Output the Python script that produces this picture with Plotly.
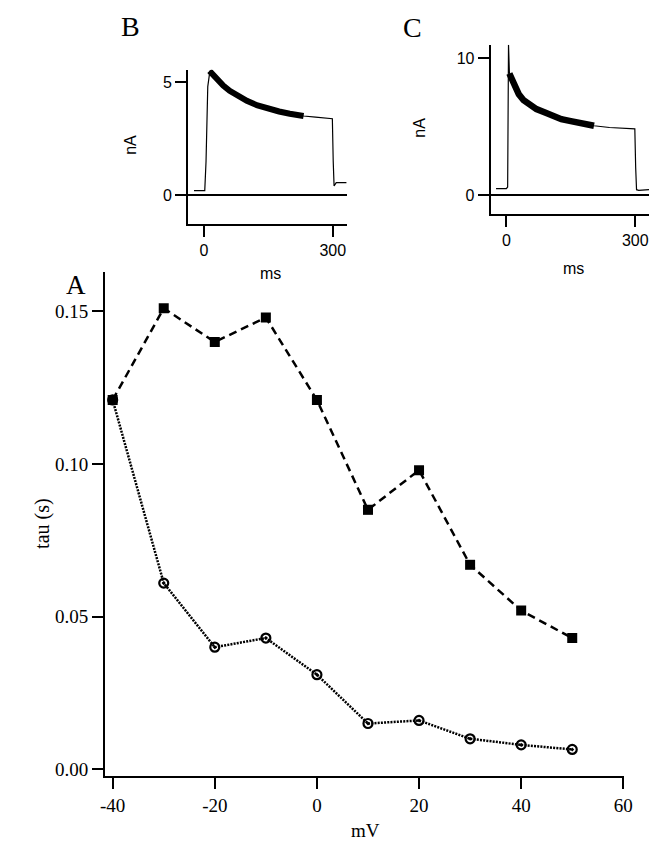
import plotly.graph_objects as go

# ---------------- data ----------------
mv = [-40, -30, -20, -10, 0, 10, 20, 30, 40, 50]
tau_squares = [0.121, 0.151, 0.140, 0.148, 0.121, 0.085, 0.098, 0.067, 0.052, 0.043]
tau_circles = [0.121, 0.061, 0.040, 0.043, 0.031, 0.015, 0.016, 0.010, 0.008, 0.0065]

main_xticks = [-40, -20, 0, 20, 40, 60]
main_xticklabels = ["-40", "-20", "0", "20", "40", "60"]
main_yticks = [0.0, 0.05, 0.10, 0.15]
main_yticklabels = ["0.00", "0.05", "0.10", "0.15"]

# inset B: current trace (ms, nA) and the fitted exponential part (thick)
b_trace_ms = [-23, 2, 5, 9, 14, 20, 30, 45, 60, 80, 100, 125, 150, 175, 200, 232, 260, 299, 301, 303, 308, 332]
b_trace_na = [0.2, 0.2, 1.5, 4.8, 5.5, 5.35, 5.1, 4.85, 4.62, 4.38, 4.17, 3.97, 3.82, 3.7, 3.6, 3.5, 3.45, 3.38, 1.5, 0.4, 0.55, 0.55]
b_fit_ms = [13, 20, 30, 45, 60, 80, 100, 125, 150, 175, 200, 232]
b_fit_na = [5.5, 5.35, 5.1, 4.85, 4.62, 4.38, 4.17, 3.97, 3.82, 3.7, 3.6, 3.5]

# inset C
c_trace_ms = [-24, 0, 3, 5, 7, 10, 14, 20, 29, 40, 52, 70, 90, 110, 128, 150, 166, 185, 204, 240, 270, 299, 301, 303, 308, 332]
c_trace_na = [0.48, 0.48, 0.6, 11.0, 9.0, 8.6, 8.4, 7.9, 7.38, 6.95, 6.65, 6.3, 6.05, 5.8, 5.56, 5.42, 5.32, 5.2, 5.08, 4.95, 4.9, 4.85, 2.0, 0.4, 0.35, 0.4]
c_fit_ms = [7, 10, 14, 20, 29, 40, 52, 70, 90, 110, 128, 150, 166, 185, 204]
c_fit_na = [8.9, 8.7, 8.5, 7.9, 7.38, 6.95, 6.65, 6.3, 6.05, 5.8, 5.56, 5.42, 5.32, 5.2, 5.08]

inset_xticks = [0, 300]
b_yticks = [0, 5]
c_yticks = [0, 10]

# ---------------- layout helpers ----------------
W, H = 662, 841
def fx(px):
    return px / W
def fy(py):
    return 1 - py / H

SERIF = "Liberation Serif, Times New Roman, serif"
SANS = "Liberation Sans, Arial, sans-serif"

fig = go.Figure()

# main plot
fig.add_trace(go.Scatter(
    x=mv, y=tau_squares, mode="lines+markers",
    line=dict(color="black", width=2.5, dash="8px,5px"),
    marker=dict(symbol="square", size=10, color="black"),
    xaxis="x", yaxis="y", showlegend=False))
fig.add_trace(go.Scatter(
    x=mv, y=tau_circles, mode="lines+markers",
    line=dict(color="black", width=2.5, dash="2px,1.2px"),
    marker=dict(symbol="circle-open-dot", size=9, color="black", line=dict(width=2.2, color="black")),
    xaxis="x", yaxis="y", showlegend=False))

# inset B
fig.add_trace(go.Scatter(x=b_trace_ms, y=b_trace_na, mode="lines",
                         line=dict(color="black", width=1.2),
                         xaxis="x2", yaxis="y2", showlegend=False))
fig.add_trace(go.Scatter(x=b_fit_ms, y=b_fit_na, mode="lines",
                         line=dict(color="black", width=6),
                         xaxis="x2", yaxis="y2", showlegend=False))
# inset C
fig.add_trace(go.Scatter(x=c_trace_ms, y=c_trace_na, mode="lines",
                         line=dict(color="black", width=1.2),
                         xaxis="x3", yaxis="y3", showlegend=False))
fig.add_trace(go.Scatter(x=c_fit_ms, y=c_fit_na, mode="lines",
                         line=dict(color="black", width=6.5),
                         xaxis="x3", yaxis="y3", showlegend=False))

axis_common = dict(showline=True, linecolor="black", linewidth=2, ticks="outside",
                   ticklen=11, tickwidth=2, tickcolor="black", showgrid=False,
                   zeroline=False, mirror=False)

fig.update_layout(
    width=W, height=H, margin=dict(l=0, r=0, t=0, b=0),
    paper_bgcolor="white", plot_bgcolor="white",
    xaxis=dict(**axis_common, domain=[fx(94), fx(624)], range=[-41.5, 60.1],
               tickvals=main_xticks, ticktext=main_xticklabels,
               tickfont=dict(family=SERIF, size=19, color="black"), anchor="y"),
    yaxis=dict(**axis_common, domain=[fy(772), fy(265)], range=[-0.0023, 0.1630],
               tickvals=main_yticks, ticktext=main_yticklabels,
               tickfont=dict(family=SERIF, size=19, color="black"), anchor="x"),
    xaxis2=dict(**axis_common, domain=[fx(179), fx(341)], range=[-36.5, 332.6],
                tickvals=inset_xticks, tickfont=dict(family=SANS, size=16, color="black"),
                anchor="y2"),
    yaxis2=dict(**{**axis_common, "zeroline": True}, zerolinecolor="black", zerolinewidth=2,
                domain=[fy(217), fy(62)], range=[-1.28, 5.55],
                tickvals=b_yticks, tickfont=dict(family=SANS, size=16, color="black"),
                anchor="x2"),
    xaxis3=dict(**axis_common, domain=[fx(488), fx(650)], range=[-36.5, 332.6],
                tickvals=inset_xticks, tickfont=dict(family=SANS, size=16, color="black"),
                anchor="y3"),
    yaxis3=dict(**{**axis_common, "zeroline": True}, zerolinecolor="black", zerolinewidth=2,
                domain=[fy(207), fy(37)], range=[-1.38, 11.0],
                tickvals=c_yticks, tickfont=dict(family=SANS, size=16, color="black"),
                anchor="x3"),
)

annotations = [
    dict(text="mV", x=fx(360), y=fy(826), font=dict(family=SERIF, size=19, color="black")),
    dict(text="tau (s)", x=fx(30), y=fy(518), textangle=-90, font=dict(family=SERIF, size=20, color="black")),
    dict(text="A", x=fx(64), y=fy(278), font=dict(family=SERIF, size=27, color="black")),
    dict(text="B", x=fx(120), y=fy(19), font=dict(family=SERIF, size=28, color="black")),
    dict(text="C", x=fx(408), y=fy(20), font=dict(family=SERIF, size=28, color="black")),
    dict(text="nA", x=fx(120), y=fy(137), textangle=-90, font=dict(family=SANS, size=16, color="black")),
    dict(text="ms", x=fx(263), y=fy(267), font=dict(family=SANS, size=16, color="black")),
    dict(text="nA", x=fx(415), y=fy(120), textangle=-90, font=dict(family=SANS, size=16, color="black")),
    dict(text="ms", x=fx(573), y=fy(262), font=dict(family=SANS, size=16, color="black")),
]
for a in annotations:
    a.update(xref="paper", yref="paper", showarrow=False, xanchor="center", yanchor="middle")
fig.update_layout(annotations=annotations)

fig.write_html("out.html")
